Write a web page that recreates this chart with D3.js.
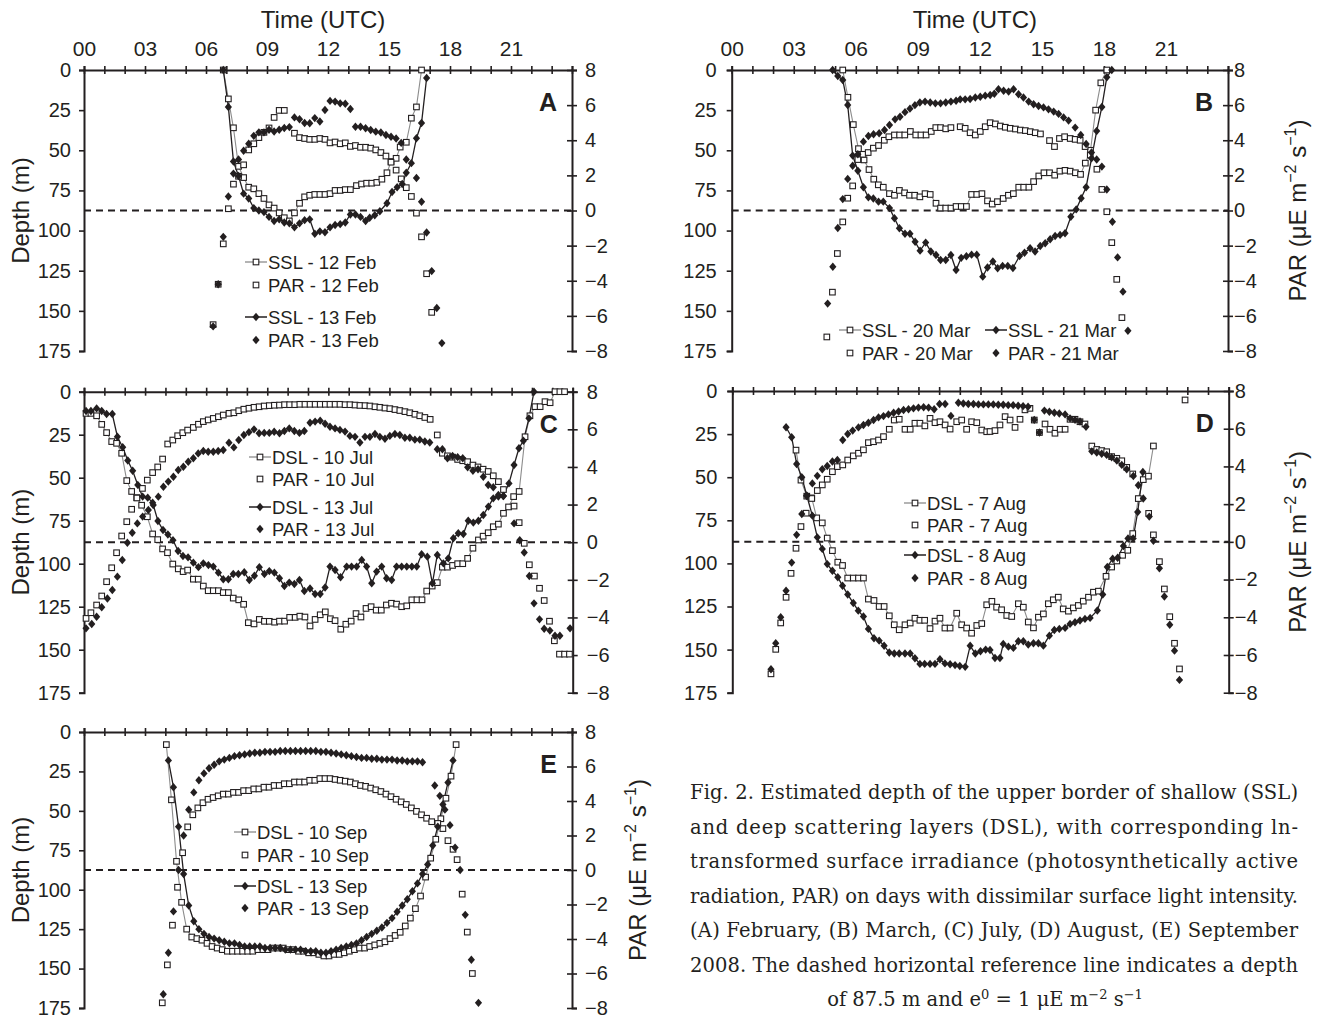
<!DOCTYPE html>
<html>
<head>
<meta charset="utf-8">
<script src="https://cdn.jsdelivr.net/npm/d3@7"></script>
<style>
  body { margin: 0; background: #fff; }
  svg text { font-family: "Liberation Sans", Arial, sans-serif; fill: #231f20; }
  .caption text { font-family: "DejaVu Serif", "Liberation Serif", serif; }
</style>
</head>
<body>
<svg id="fig" width="1318" height="1019"></svg>
<script>
// ---- tick labels ----
const hourLabels = ["00", "03", "06", "09", "12", "15", "18", "21"];
const depthTicks = [0, 25, 50, 75, 100, 125, 150, 175];
const parTicks = [8, 6, 4, 2, 0, -2, -4, -6, -8];

// ---- series: [hour UTC, value] (depth in m, PAR as ln) ----
// A: February
const ssl12Feb = [[6.85,0],[7.1,18],[7.35,36],[7.6,60],[7.85,67],[8.1,73],[8.35,74],[8.6,77],[8.85,80],[9.1,84],[9.35,86],[9.6,89],[9.85,92],[10.1,94],[10.35,89],[10.6,83],[10.85,79],[11.1,78],[11.35,77.5],[11.6,77.5],[11.85,77.5],[12.1,77],[12.35,75],[12.6,75],[12.85,74.5],[13.1,74.5],[13.4,72],[13.65,71],[13.9,70.5],[14.15,70.5],[14.4,70],[14.65,68],[14.9,64],[15.1,57],[15.35,55],[15.55,48],[15.85,45],[16.1,30],[16.35,23],[16.6,0]];
const par12Feb = [[6.35,-6.5],[6.6,-4.2],[6.85,-1.9],[7.1,0.1],[7.35,1.5],[7.6,1.95],[7.85,2.6],[8.1,3.45],[8.35,3.8],[8.6,4.15],[8.85,4.45],[9.1,4.7],[9.35,5.3],[9.6,5.7],[9.85,5.7],[10.35,4.4],[10.6,4.15],[10.85,4.1],[11.1,4.05],[11.35,4.05],[11.6,4.1],[11.85,4.05],[12.1,3.85],[12.35,3.9],[12.6,3.8],[12.85,3.85],[13.1,3.65],[13.35,3.7],[13.6,3.6],[13.85,3.6],[14.1,3.55],[14.35,3.45],[14.6,3.3],[14.85,3.1],[15.1,2.75],[15.35,2.3],[15.6,1.8],[15.85,1.3],[16.1,0.8],[16.35,-0.15],[16.6,-1.5],[16.85,-3.6],[17.1,-5.8]];
const ssl13Feb = [[6.85,0],[7.1,23],[7.35,57],[7.6,66],[7.85,77],[8.1,80],[8.35,86],[8.6,87.5],[8.85,88.5],[9.1,91.5],[9.35,94],[9.6,93],[9.85,95],[10.1,95.5],[10.35,98],[10.6,95.5],[10.85,93.5],[11.1,93],[11.35,102],[11.6,100.5],[11.85,101],[12.1,98],[12.35,96.5],[12.6,96],[12.85,95],[13.1,90],[13.35,90],[13.6,91.5],[13.85,94],[14.05,92],[14.3,90.5],[14.55,88],[14.9,83],[15.15,76],[15.4,73],[15.65,71],[15.85,64],[16.1,58],[16.35,42.5],[16.6,33],[16.85,5]];
const par13Feb = [[6.35,-6.6],[6.6,-4.2],[6.85,-1.5],[7.1,0.8],[7.35,2.1],[7.6,2.9],[7.85,3.4],[8.1,3.8],[8.35,4.25],[8.6,4.45],[8.85,4.45],[9.1,4.6],[9.35,4.5],[9.6,4.6],[9.85,4.7],[10.1,4.75],[10.35,5.3],[10.6,5.2],[10.85,4.98],[11.1,4.97],[11.35,5.26],[11.6,5.07],[11.85,5.72],[12.1,6.24],[12.35,6.2],[12.6,6.1],[12.85,6.08],[13.1,5.78],[13.35,4.77],[13.6,4.77],[13.85,4.68],[14.1,4.58],[14.35,4.49],[14.6,4.44],[14.85,4.3],[15.1,4.2],[15.35,4.1],[15.6,3.85],[15.85,2.9],[16.35,1.85],[16.6,0.5],[16.85,-1.25],[17.1,-3.45],[17.35,-5.55],[17.6,-7.55]];

// B: March
const ssl20Mar = [[5.37,0],[5.62,17],[5.88,34],[6.13,49],[6.4,56],[6.64,62],[6.87,68],[7.09,71.5],[7.33,73],[7.63,77],[7.87,78],[8.11,75],[8.36,76.5],[8.6,78],[8.85,78],[9.1,79],[9.35,77],[9.6,77.5],[9.88,83],[10.1,86],[10.35,86],[10.6,86],[10.85,85],[11.1,85],[11.35,85],[11.6,77.5],[11.85,77.5],[12.1,77],[12.37,81.5],[12.6,83.5],[12.85,82],[13.13,80],[13.38,78],[13.62,77],[13.88,73],[14.12,73],[14.37,73],[14.6,69.5],[14.85,66],[15.1,64],[15.37,64],[15.62,65.5],[15.87,63],[16.12,62.5],[16.37,63],[16.62,64],[16.87,65],[17.1,58],[17.35,50],[17.6,25],[17.85,8],[18.14,0]];
const par20Mar = [[4.6,-7.2],[4.87,-4.65],[5.11,-2.45],[5.37,-0.65],[5.61,0.7],[5.85,1.4],[6.1,2.9],[6.35,3.2],[6.6,3.3],[6.85,3.55],[7.1,3.7],[7.38,4.0],[7.6,4.2],[7.87,4.3],[8.12,4.3],[8.37,4.3],[8.64,4.5],[8.9,4.3],[9.15,4.3],[9.4,4.3],[9.65,4.5],[9.87,4.72],[10.1,4.72],[10.35,4.65],[10.6,4.72],[11.05,4.77],[11.29,4.68],[11.53,4.43],[11.78,4.3],[12.02,4.5],[12.26,4.77],[12.5,5.0],[12.75,4.93],[12.99,4.81],[13.23,4.74],[13.47,4.68],[13.72,4.64],[13.96,4.58],[14.2,4.55],[14.44,4.49],[14.68,4.43],[14.93,4.36],[15.37,3.98],[15.61,3.64],[15.85,4.1],[16.1,4.2],[16.37,4.1],[16.61,4.05],[16.85,4.0],[17.09,3.64],[17.34,3.16],[17.66,2.35],[17.9,1.2],[18.14,-0.07],[18.38,-1.83],[18.62,-3.92],[18.87,-6.1]];
const ssl21Mar = [[4.88,0],[5.13,3.7],[5.37,6.2],[5.61,21.8],[5.85,53.3],[6.1,62.7],[6.37,73],[6.61,79.3],[6.85,80],[7.1,82],[7.33,82],[7.63,86],[7.87,92.3],[8.11,98.6],[8.38,102],[8.62,102],[8.87,107],[9.11,112.5],[9.38,107.5],[9.63,113],[9.88,115.2],[10.1,118.3],[10.35,118.3],[10.6,115.2],[10.85,124.6],[11.1,117],[11.35,116],[11.6,115],[11.85,115],[12.14,128.7],[12.37,123],[12.63,119.3],[12.86,123.5],[13.1,122],[13.35,122],[13.6,123.3],[13.92,115.8],[14.16,113.8],[14.43,111],[14.67,113],[14.92,109.6],[15.16,107.9],[15.4,105.4],[15.64,103.4],[15.88,102.7],[16.12,101.7],[16.4,91.4],[16.66,86.8],[16.9,79.9],[17.14,73],[17.4,55],[17.65,38],[17.9,23],[18.14,4.5],[18.38,0]];
const par21Mar = [[4.64,-5.3],[4.89,-3.2],[5.13,-1.0],[5.37,0.65],[5.61,1.8],[5.85,2.55],[6.1,3.2],[6.37,3.92],[6.61,4.24],[6.86,4.34],[7.13,4.4],[7.39,4.58],[7.63,4.87],[7.9,5.19],[8.14,5.34],[8.38,5.6],[8.62,5.8],[8.86,6.0],[9.1,6.15],[9.35,6.2],[9.6,6.15],[9.85,6.1],[10.1,6.1],[10.35,6.15],[10.6,6.2],[10.85,6.25],[11.05,6.33],[11.29,6.33],[11.53,6.35],[11.78,6.43],[12.02,6.48],[12.26,6.54],[12.5,6.58],[12.7,6.65],[12.9,6.9],[13.15,6.82],[13.39,6.77],[13.63,6.9],[13.87,6.62],[14.11,6.43],[14.36,6.2],[14.6,6.05],[14.84,5.95],[15.08,5.87],[15.32,5.76],[15.57,5.63],[15.81,5.5],[16.05,5.3],[16.29,5.12],[16.61,4.72],[16.88,4.3],[17.14,3.79],[17.4,3.3],[17.65,2.9],[17.9,2.5],[18.14,1.2],[18.41,-0.64],[18.66,-2.67],[18.92,-4.62],[19.16,-6.85]];

// C: July
const dsl10Jul = [[0.1,12.6],[0.34,12.6],[0.62,14],[0.87,19],[1.11,23.8],[1.36,29],[1.6,30],[1.85,35.8],[2.1,51.7],[2.34,58],[2.59,61.6],[2.83,66],[3.11,72.7],[3.37,82.7],[3.62,86],[3.86,91.4],[4.1,93.6],[4.36,100.2],[4.63,103],[4.87,104.6],[5.09,103.7],[5.37,109],[5.61,109],[5.86,113],[6.1,115.7],[6.35,115.7],[6.6,115.7],[6.84,116.8],[7.09,116.8],[7.33,120],[7.6,121],[7.84,123.6],[8.07,134.3],[8.35,135],[8.61,132.4],[8.86,133.5],[9.1,133.5],[9.36,134],[9.6,133.4],[9.85,133.4],[10.1,131.2],[10.37,131.2],[10.6,130.5],[10.85,131],[11.1,136.2],[11.35,132.4],[11.6,129.7],[11.85,128],[12.1,132],[12.33,133.1],[12.61,138.1],[12.86,135.2],[13.12,133.4],[13.36,129],[13.6,131],[13.85,126],[14.1,125],[14.35,127],[14.6,127],[14.85,124],[15.1,123],[15.35,123.5],[15.6,125],[15.85,124.5],[16.1,121],[16.35,121],[16.6,121],[16.83,115.9],[17.1,113],[17.35,111],[17.6,102],[17.85,102],[18.1,101],[18.35,100],[18.6,100],[18.84,96.9],[19.1,91],[19.37,86.2],[19.6,84],[19.85,82],[20.1,78.5],[20.35,77],[20.6,70.7],[20.85,67],[21.1,61],[21.37,58],[21.66,26.2],[21.9,14],[22.15,8.7],[22.4,8.7],[22.64,5.8],[22.89,6.4],[23.13,0],[23.37,0],[23.6,0]];
const par10Jul = [[0.1,-4.05],[0.34,-3.75],[0.62,-3.34],[0.87,-2.86],[1.11,-2.1],[1.36,-1.36],[1.6,-0.56],[1.85,0.33],[2.1,1.09],[2.34,1.75],[2.6,2.35],[2.87,2.86],[3.11,3.3],[3.37,3.7],[3.62,4.0],[3.86,4.42],[4.11,5.22],[4.36,5.43],[4.6,5.66],[4.85,5.82],[5.09,5.96],[5.37,6.1],[5.62,6.27],[5.86,6.41],[6.1,6.5],[6.35,6.58],[6.6,6.67],[6.84,6.76],[7.12,6.85],[7.36,6.88],[7.6,6.99],[7.85,7.07],[8.1,7.12],[8.35,7.17],[8.6,7.2],[8.85,7.24],[9.1,7.26],[9.35,7.28],[9.6,7.29],[9.85,7.31],[10.1,7.31],[10.35,7.31],[10.6,7.33],[10.85,7.33],[11.1,7.33],[11.35,7.33],[11.6,7.33],[11.85,7.33],[12.08,7.33],[12.33,7.33],[12.57,7.33],[12.82,7.31],[13.06,7.31],[13.31,7.29],[13.55,7.27],[13.8,7.26],[14.04,7.24],[14.29,7.2],[14.53,7.17],[14.78,7.13],[15.02,7.1],[15.27,7.05],[15.51,7.0],[15.76,6.94],[16.0,6.88],[16.25,6.8],[16.49,6.72],[16.74,6.63],[17.0,6.53],[17.35,5.7],[17.6,4.73],[17.85,4.59],[18.1,4.52],[18.35,4.4],[18.6,4.33],[18.84,4.28],[19.1,4.1],[19.35,4.0],[19.6,3.88],[19.85,3.76],[20.1,3.53],[20.35,3.22],[20.6,2.8],[21.12,1.92],[21.37,1.04],[21.62,-0.06],[21.87,-1.2],[22.12,-1.8],[22.37,-2.45],[22.6,-3.1],[22.86,-4.2],[23.1,-5.24],[23.35,-5.95],[23.6,-5.95],[23.84,-5.95]];
const dsl13Jul = [[0.1,11.2],[0.34,11.2],[0.62,9.7],[0.87,11.2],[1.11,13],[1.39,13],[1.64,26.2],[1.9,32.3],[2.15,40],[2.39,46],[2.64,54.2],[2.88,61],[3.13,61.6],[3.37,64.5],[3.63,75.2],[3.88,80.4],[4.12,83],[4.37,86.3],[4.62,92.6],[4.86,95.5],[5.11,96.3],[5.37,99.4],[5.62,102],[5.86,99.8],[6.11,100.8],[6.35,101.7],[6.6,105.2],[6.84,109],[7.09,109],[7.33,106],[7.58,106],[7.87,105],[8.12,109.5],[8.37,107],[8.61,102],[8.86,106],[9.1,104.3],[9.35,105.2],[9.6,108.5],[9.84,113],[10.08,111],[10.33,111.8],[10.58,109.5],[10.82,115.9],[11.1,114.4],[11.35,117.6],[11.6,117.6],[11.84,113.8],[12.08,101.7],[12.33,103.7],[12.6,107.9],[12.9,101.7],[13.14,101.7],[13.39,101.7],[13.64,97.8],[13.88,101.7],[14.13,111.4],[14.37,104.6],[14.62,101.7],[14.86,108.5],[15.11,109.5],[15.35,101.7],[15.6,101.7],[15.85,101.7],[16.1,101.7],[16.34,101.7],[16.58,94.5],[16.86,95.9],[17.11,111.4],[17.35,94.9],[17.65,99.8],[17.89,96.9],[18.14,85.2],[18.38,82.3],[18.63,82.7],[18.87,75],[19.12,76.1],[19.37,75],[19.61,71.7],[19.86,66.8],[20.1,62],[20.35,61],[20.59,60.6],[20.87,53.3],[21.12,42.6],[21.36,32.9],[21.58,28.5],[21.85,15.5],[22.1,0]];
const par13Jul = [[0.1,-4.58],[0.38,-4.35],[0.62,-3.96],[0.87,-3.46],[1.15,-2.99],[1.39,-2.54],[1.64,-1.83],[1.88,-0.95],[2.13,-0.03],[2.37,0.5],[2.62,1.0],[2.88,1.36],[3.16,1.71],[3.4,1.98],[3.65,2.42],[3.9,2.95],[4.14,3.22],[4.39,3.48],[4.63,3.84],[4.88,4.01],[5.12,4.28],[5.37,4.46],[5.61,4.72],[5.86,4.85],[6.1,4.81],[6.35,4.81],[6.59,4.85],[6.84,4.9],[7.12,5.29],[7.36,5.04],[7.6,5.43],[7.85,5.7],[8.1,5.85],[8.35,6.0],[8.6,5.79],[8.85,5.81],[9.1,5.81],[9.34,5.87],[9.6,5.79],[9.84,5.91],[10.08,6.05],[10.33,5.91],[10.58,5.81],[10.82,5.91],[11.1,6.35],[11.35,6.41],[11.6,6.46],[11.84,6.3],[12.08,6.14],[12.33,6.05],[12.57,5.97],[12.82,5.88],[13.06,5.65],[13.31,5.6],[13.55,5.3],[13.8,5.6],[14.04,5.6],[14.29,5.75],[14.53,5.6],[14.78,5.5],[15.02,5.65],[15.27,5.75],[15.51,5.7],[15.76,5.55],[16.0,5.55],[16.25,5.45],[16.49,5.45],[16.74,5.35],[16.98,5.3],[17.35,4.94],[17.6,4.94],[17.85,4.46],[18.1,4.58],[18.35,4.52],[18.6,4.46],[18.84,3.98],[19.1,3.8],[19.35,3.88],[19.61,3.48],[19.85,3.04],[20.1,2.92],[20.35,2.51],[20.6,2.45],[21.12,1.0],[21.4,0.1],[21.62,-0.55],[21.87,-1.8],[22.1,-3.25],[22.37,-4.1],[22.6,-4.6],[22.88,-4.7],[23.13,-4.97],[23.37,-4.97],[23.87,-4.58]];

// D: August
const dsl7Aug = [[3.08,34.3],[3.32,51.7],[3.6,61],[3.84,62],[4.08,73.6],[4.35,76.5],[4.59,85.3],[4.84,92.6],[5.1,99.3],[5.33,101.2],[5.58,108.5],[5.85,108.5],[6.1,108.5],[6.34,108.5],[6.58,120.7],[6.85,121.5],[7.1,125],[7.34,125],[7.59,130.4],[7.83,135.6],[8.07,138.5],[8.35,135.6],[8.6,134.6],[8.83,131.8],[9.07,133],[9.3,133],[9.56,137.8],[9.8,133.5],[10.04,131.8],[10.28,137.5],[10.53,137.5],[10.85,128.9],[11.09,135.6],[11.33,137.5],[11.57,140.5],[11.82,136],[12.06,134.9],[12.3,124],[12.55,122],[12.78,125.4],[13.02,126.9],[13.27,130.2],[13.51,130.8],[13.83,123.4],[14.07,125.4],[14.31,134],[14.56,137.4],[14.8,131.2],[15.04,129.3],[15.28,123.4],[15.52,121.1],[15.76,119.6],[16.0,126.4],[16.25,127.7],[16.49,125.8],[16.73,124.4],[16.97,121.9],[17.22,119.6],[17.46,116.7],[17.7,116.1],[18.07,107.5],[18.34,102.1],[18.59,98.6],[18.87,95.3],[19.12,92.4],[19.36,82.7],[19.63,62.4],[19.87,51.4],[20.12,49.4],[20.36,31.9],null,[21.89,5.2]];
const par7Aug = [[1.87,-7.0],[2.1,-5.7],[2.34,-4.3],[2.6,-2.94],[2.84,-1.67],[3.08,-0.34],[3.32,0.81],[3.57,1.52],[3.84,2.3],[4.11,2.72],[4.35,3.02],[4.59,3.32],[4.84,3.72],[5.08,3.99],[5.34,4.08],[5.58,4.34],[5.85,4.56],[6.1,4.7],[6.34,4.88],[6.58,5.26],[6.83,5.31],[7.07,5.4],[7.31,5.58],[7.59,5.97],[7.83,6.46],[8.07,6.5],[8.35,5.97],[8.6,5.97],[8.83,6.29],[9.07,6.29],[9.31,6.15],[9.56,6.55],[9.8,6.32],[10.04,6.37],[10.29,6.2],[10.53,5.98],[10.85,6.37],[11.09,6.46],[11.33,5.97],[11.57,6.37],[11.82,6.32],[12.06,5.93],[12.3,5.84],[12.46,5.85],[12.7,5.9],[12.94,6.2],[13.19,6.64],[13.43,6.46],[13.67,6.07],[13.91,6.5],[14.15,7.0],[14.39,7.08],[14.6,6.46],[14.85,5.8],[15.12,6.25],[15.36,5.97],[15.6,5.76],[15.85,5.97],[16.09,5.97],[16.33,6.5],[16.57,6.5],[16.81,6.37],[17.05,6.25],[17.38,5.08],[17.62,4.9],[17.86,4.84],[18.1,4.78],[18.34,4.52],[18.59,4.43],[18.83,4.3],[19.07,3.95],[19.36,3.6],[20.13,1.51],[20.36,0.37],[20.65,-1.05],[20.89,-2.5],[21.15,-3.97],[21.38,-5.38],[21.62,-6.74]];
const dsl8Aug = [[2.6,21],[2.87,26.8],[3.11,42.3],[3.36,50],[3.6,60.6],[3.87,72.3],[4.11,84.9],[4.35,91.6],[4.59,100.4],[4.84,104.3],[5.1,108],[5.33,113],[5.58,118],[5.85,123],[6.09,127.4],[6.34,130.8],[6.58,138],[6.85,143.4],[7.1,144.8],[7.34,147.8],[7.59,151.7],[7.83,152.3],[8.07,152.3],[8.35,152.3],[8.6,152.3],[8.83,155],[9.07,158.3],[9.3,158.3],[9.56,158.3],[9.8,158.3],[10.04,155.6],[10.28,158],[10.53,158.5],[10.77,159],[11.0,159.5],[11.26,160],[11.5,147.8],[11.75,152.3],[12.0,151],[12.25,150],[12.46,150.2],[12.7,154.9],[12.94,154.9],[13.1,146.7],[13.35,148.3],[13.59,149],[13.83,145.2],[14.07,145.2],[14.31,147.1],[14.56,146.3],[14.8,146.3],[15.04,147.7],[15.33,141.9],[15.57,138.6],[15.81,138],[16.09,137.4],[16.33,135.1],[16.57,134.1],[16.81,133.1],[17.05,132.2],[17.3,131.6],[17.65,127.3],[17.91,118],[18.13,102.1],[18.39,97.3],[18.63,96.7],[18.91,89.9],[19.13,85.5],[19.38,85.5],[19.6,70.2],[19.85,47]];
const par8Aug = [[1.87,-6.76],[2.1,-5.38],[2.34,-4.0],[2.6,-2.59],[2.87,-1.1],[3.11,0.37],[3.36,1.48],[3.6,2.43],[3.87,3.1],[4.11,3.5],[4.35,3.85],[4.59,4.02],[4.84,4.26],[5.08,4.34],[5.34,5.4],[5.58,5.72],[5.82,5.9],[6.1,6.07],[6.34,6.2],[6.58,6.32],[6.83,6.46],[7.07,6.6],[7.31,6.67],[7.55,6.76],[7.8,6.85],[8.04,6.91],[8.28,6.99],[8.52,7.03],[8.76,7.08],[9.0,7.12],[9.25,7.14],[9.49,7.12],[9.76,7.03],[10.02,7.31],[10.29,7.31],[10.57,6.68],[10.93,7.38],[11.17,7.34],[11.41,7.31],[11.66,7.31],[11.9,7.29],[12.14,7.29],[12.38,7.29],[12.62,7.29],[12.86,7.27],[13.1,7.27],[13.34,7.25],[13.58,7.25],[13.82,7.22],[14.06,7.2],[14.3,7.17],[14.6,6.47],[14.85,5.8],[15.09,6.96],[15.33,6.9],[15.57,6.85],[15.81,6.81],[16.09,6.76],[16.33,6.55],[16.57,6.47],[16.81,6.38],[17.1,6.1],[17.38,4.8],[17.62,4.74],[17.86,4.67],[18.1,4.61],[18.34,4.48],[18.59,4.31],[18.83,4.08],[19.07,3.85],[19.39,3.49],[19.63,3.0],[19.87,2.3],[20.16,1.34],[20.36,0.06],[20.65,-1.4],[20.89,-2.9],[21.15,-4.4],[21.38,-5.77],[21.62,-7.32]];

// E: September
const dsl10Sep = [[4.05,8],[4.3,43],[4.55,82],[4.8,108],[5.05,125],[5.3,130],[5.55,131],[5.8,132],[6.05,134],[6.3,136],[6.55,137],[6.8,138],[7.05,139],[7.3,139],[7.55,139],[7.8,139],[8.05,139],[8.3,139],[8.55,138],[8.8,138],[9.05,138],[9.3,137],[9.55,137],[9.8,137],[10.05,138],[10.3,138],[10.55,139],[10.8,139],[11.05,140],[11.3,140],[11.55,141],[11.8,142],[12.05,142],[12.3,141],[12.55,141],[12.8,140],[13.05,139],[13.3,138],[13.55,137],[13.8,137],[14.05,136],[14.3,135],[14.55,134],[14.8,133],[15.05,131],[15.3,129],[15.55,127],[15.8,123],[16.05,118],[16.3,112],[16.55,104],[16.8,92],[17.05,80],[17.3,68],[17.55,55],[17.8,42],[18.05,28],[18.3,8]];
const par10Sep = [[3.85,-7.7],[4.1,-5.5],[4.35,-3.2],[4.6,-1.0],[4.85,1.0],[5.1,2.5],[5.35,3.2],[5.6,3.6],[5.85,3.9],[6.1,4.1],[6.35,4.2],[6.6,4.3],[6.85,4.4],[7.1,4.4],[7.35,4.5],[7.6,4.5],[7.85,4.6],[8.1,4.6],[8.35,4.7],[8.6,4.7],[8.85,4.8],[9.1,4.8],[9.35,4.9],[9.6,4.9],[9.85,5.0],[10.1,5.0],[10.35,5.1],[10.6,5.1],[10.85,5.1],[11.1,5.2],[11.35,5.2],[11.6,5.3],[11.85,5.3],[12.1,5.3],[12.35,5.25],[12.6,5.2],[12.85,5.15],[13.1,5.1],[13.35,5.0],[13.6,4.9],[13.85,4.85],[14.1,4.75],[14.35,4.65],[14.6,4.55],[14.85,4.4],[15.1,4.25],[15.35,4.1],[15.6,3.95],[15.85,3.8],[16.1,3.6],[16.35,3.4],[16.6,3.2],[16.85,3.0],[17.1,2.8],[17.4,2.7],[17.65,2.4],[17.9,1.7],[18.15,1.2],[18.35,0.6],[18.6,-1.4],[18.85,-3.6],[19.1,-6.0]];
const dsl13Sep = [[4.15,18],[4.4,35],[4.65,60],[4.9,90],[5.15,110],[5.4,120],[5.65,125],[5.9,128],[6.15,130],[6.4,131],[6.65,132],[6.9,133],[7.15,134],[7.4,134],[7.65,135],[7.9,136],[8.15,136],[8.4,136],[8.65,136],[8.9,137],[9.15,137],[9.4,137],[9.65,137],[9.9,138],[10.15,138],[10.4,138],[10.65,138],[10.9,139],[11.15,139],[11.4,139],[11.65,140],[11.9,140],[12.15,139],[12.4,138],[12.65,137],[12.9,136],[13.15,135],[13.4,134],[13.65,132],[13.9,130],[14.15,128],[14.4,126],[14.65,124],[14.9,121],[15.15,118],[15.4,114],[15.65,110],[15.9,106],[16.15,101],[16.4,96],[16.65,90],[16.9,84],[17.15,72],[17.4,60],[17.65,46],[17.9,32],[18.15,18]];
const par13Sep = [[3.9,-7.2],[4.15,-4.8],[4.4,-2.4],[4.65,0],[4.9,2.0],[5.15,3.5],[5.4,4.5],[5.65,5.2],[5.9,5.6],[6.15,5.9],[6.4,6.1],[6.65,6.3],[6.9,6.4],[7.15,6.5],[7.4,6.6],[7.65,6.65],[7.9,6.7],[8.15,6.75],[8.4,6.8],[8.65,6.8],[8.9,6.85],[9.15,6.85],[9.4,6.85],[9.65,6.9],[9.9,6.9],[10.15,6.9],[10.4,6.9],[10.65,6.9],[10.9,6.9],[11.15,6.9],[11.4,6.9],[11.65,6.85],[11.9,6.85],[12.15,6.8],[12.4,6.75],[12.65,6.7],[12.9,6.65],[13.15,6.6],[13.4,6.55],[13.65,6.5],[13.9,6.5],[14.15,6.45],[14.4,6.45],[14.65,6.4],[14.9,6.4],[15.15,6.4],[15.4,6.35],[15.65,6.35],[15.9,6.3],[16.15,6.3],[16.4,6.3],[16.65,6.25],[17.25,4.9],[17.5,4.3],[17.75,3.5],[18.0,2.6],[18.25,1.3],[18.5,0],[18.75,-2.6],[19.05,-5.2],[19.4,-7.7]];

// legend labels per panel (day 1 depth, day 1 PAR, day 2 depth, day 2 PAR)
const legendA = ["SSL - 12 Feb", "PAR - 12 Feb", "SSL - 13 Feb", "PAR - 13 Feb"];
const legendB = ["SSL - 20 Mar", "PAR - 20 Mar", "SSL - 21 Mar", "PAR - 21 Mar"];
const legendC = ["DSL - 10 Jul", "PAR - 10 Jul", "DSL - 13 Jul", "PAR - 13 Jul"];
const legendD = ["DSL - 7 Aug", "PAR - 7 Aug", "DSL - 8 Aug", "PAR - 8 Aug"];
const legendE = ["DSL - 10 Sep", "PAR - 10 Sep", "DSL - 13 Sep", "PAR - 13 Sep"];

const captionLines = [
  "Fig. 2. Estimated depth of the upper border of shallow (SSL)",
  "and deep scattering layers (DSL), with corresponding ln-",
  "transformed surface irradiance (photosynthetically active",
  "radiation, PAR) on days with dissimilar surface light intensity.",
  "(A) February, (B) March, (C) July, (D) August, (E) September",
  "2008. The dashed horizontal reference line indicates a depth"
];

// ---------------------------------------------------------------
const svg = d3.select("#fig");

const panels = [
  { letter: "A", left: 84, right: 572, top: 70, bottom: 351, timeLabels: true, depthTitle: true, parTitle: null,
    depthGap: 8, parGap: 8, series: [ssl12Feb, par12Feb, ssl13Feb, par13Feb], legend: legendA,
    leg: [[256, 262], [256, 285], [256, 317], [256, 340]] },
  { letter: "B", left: 731.7, right: 1228, top: 70, bottom: 351, timeLabels: true, depthTitle: false, parTitle: 1300,
    depthGap: 10, parGap: 1, series: [ssl20Mar, par20Mar, ssl21Mar, par21Mar], legend: legendB,
    leg: [[850, 330], [850, 353], [996, 330], [996, 353]] },
  { letter: "C", left: 84, right: 572.7, top: 391.7, bottom: 692.7, timeLabels: false, depthTitle: true, parTitle: null,
    depthGap: 8, parGap: 9, series: [dsl10Jul, par10Jul, dsl13Jul, par13Jul], legend: legendC,
    leg: [[260, 457], [260, 479], [260, 507], [260, 529]] },
  { letter: "D", left: 732.3, right: 1228.7, top: 391, bottom: 692.7, timeLabels: false, depthTitle: false, parTitle: 1300,
    depthGap: 10, parGap: 1, series: [dsl7Aug, par7Aug, dsl8Aug, par8Aug], legend: legendD,
    leg: [[915, 503], [915, 525], [915, 555], [915, 578]] },
  { letter: "E", left: 84, right: 572, top: 732, bottom: 1008, timeLabels: false, depthTitle: true, parTitle: 640,
    depthGap: 8, parGap: 8, series: [dsl10Sep, par10Sep, dsl13Sep, par13Sep], legend: legendE,
    leg: [[245, 832], [245, 855], [245, 886], [245, 908]] }
];

const diamond = "M0,-4.2L3.6,0L0,4.2L-3.6,0Z";

function marker(sel, kind) {
  if (kind === "sq") {
    sel.append("rect").attr("x", -2.8).attr("y", -2.8).attr("width", 5.6).attr("height", 5.6)
      .attr("fill", "#fff").attr("stroke", "#231f20").attr("stroke-width", 1.1);
  } else {
    sel.append("path").attr("d", diamond).attr("fill", "#231f20");
  }
}

function parTitle(g, x, y) {
  const t = g.append("text")
    .attr("transform", `translate(${x},${y}) rotate(-90)`)
    .attr("text-anchor", "middle")
    .attr("dominant-baseline", "middle")
    .style("font-size", "24px");
  t.append("tspan").text("PAR (μE m");
  t.append("tspan").attr("dy", -8).style("font-size", "16px").text("−2");
  t.append("tspan").attr("dy", 8).text(" s");
  t.append("tspan").attr("dy", -8).style("font-size", "16px").text("−1");
  t.append("tspan").attr("dy", 8).text(")");
}

panels.forEach(p => {
  const g = svg.append("g");
  const x = d3.scaleLinear().domain([0, 24]).range([p.left, p.right]);
  const yD = d3.scaleLinear().domain([0, 175]).range([p.top, p.bottom]);
  const yP = d3.scaleLinear().domain([8, -8]).range([p.top, p.bottom]);

  // dashed reference line (87.5 m / ln PAR = 0)
  g.append("line")
    .attr("x1", p.left).attr("x2", p.right)
    .attr("y1", yP(0)).attr("y2", yP(0))
    .attr("stroke", "#231f20").attr("stroke-width", 2)
    .attr("stroke-dasharray", "7,5");

  // top time axis
  const ax = g.append("g")
    .attr("transform", `translate(0,${p.top})`)
    .call(d3.axisTop(x).tickValues(d3.range(0, 25)).tickSizeOuter(0).tickSize(4).tickPadding(10)
      .tickFormat(d => (p.timeLabels && d % 3 === 0 && d < 24) ? hourLabels[d / 3] : ""));
  ax.selectAll(".tick line").attr("y1", -4).attr("y2", 4);

  // left depth axis
  const ay = g.append("g")
    .attr("transform", `translate(${p.left},0)`)
    .call(d3.axisLeft(yD).tickValues(depthTicks).tickSizeOuter(0).tickSize(5).tickPadding(p.depthGap));

  // right PAR axis
  const ap = g.append("g")
    .attr("transform", `translate(${p.right},0)`)
    .call(d3.axisRight(yP).tickValues(parTicks).tickSizeOuter(0).tickSize(5).tickPadding(p.parGap));
  ap.selectAll(".tick line").attr("x1", -5).attr("x2", 5);

  [ax, ay, ap].forEach(a => {
    a.select(".domain").attr("stroke", "#231f20").attr("stroke-width", 2);
    a.selectAll(".tick line").attr("stroke", "#231f20").attr("stroke-width", 1.6);
    a.selectAll("text").attr("fill", "#231f20").style("font-size", "20px")
      .style("font-family", '"Liberation Sans", Arial, sans-serif');
  });
  ax.selectAll("text").style("font-size", "21px");

  // series: 0 depth/squares, 1 PAR/squares, 2 depth/diamonds, 3 PAR/diamonds
  const spec = [
    { y: yD, kind: "sq", line: "#8c8c8c", w: 1.1 },
    { y: yP, kind: "sq", line: null },
    { y: yD, kind: "dm", line: "#231f20", w: 1.3 },
    { y: yP, kind: "dm", line: null }
  ];
  p.series.forEach((data, i) => {
    const s = spec[i];
    if (s.line) {
      g.append("path").datum(data)
        .attr("fill", "none").attr("stroke", s.line).attr("stroke-width", s.w)
        .attr("d", d3.line().defined(d => d).x(d => x(d[0])).y(d => s.y(d[1])));
    }
  });
  p.series.forEach((data, i) => {
    const s = spec[i];
    g.append("g").selectAll("g").data(data.filter(d => d)).join("g")
      .attr("transform", d => `translate(${x(d[0])},${s.y(d[1])})`)
      .call(sel => marker(sel, s.kind));
  });

  // legend
  p.legend.forEach((label, i) => {
    const [lx, ly] = p.leg[i];
    const s = spec[i];
    const lg = g.append("g").attr("transform", `translate(${lx},${ly})`);
    if (s.line) lg.append("line").attr("x1", -11).attr("x2", 11).attr("stroke", s.line).attr("stroke-width", s.w + 0.2);
    marker(lg, s.kind);
    lg.append("text").attr("x", 12).attr("dominant-baseline", "central")
      .style("font-size", "18.5px").text(label);
  });

  // panel letter
  g.append("text").attr("x", p.right - 15).attr("y", p.top + 41)
    .attr("text-anchor", "end").style("font-size", "25px").style("font-weight", "bold")
    .text(p.letter);

  // titles
  if (p.timeLabels) {
    g.append("text").attr("x", (p.left + p.right) / 2 - 5).attr("y", 28)
      .attr("text-anchor", "middle").style("font-size", "24px").text("Time (UTC)");
  }
  if (p.depthTitle) {
    g.append("text")
      .attr("transform", `translate(23,${(p.top + p.bottom) / 2}) rotate(-90)`)
      .attr("text-anchor", "middle").attr("dominant-baseline", "middle")
      .style("font-size", "24px").text("Depth (m)");
  }
  if (p.parTitle) parTitle(g, p.parTitle, (p.top + p.bottom) / 2);
});

// caption
const cap = svg.append("g").attr("class", "caption");
captionLines.forEach((line, i) => {
  cap.append("text").attr("x", 690).attr("y", 799 + i * 34.5)
    .attr("textLength", 608).attr("lengthAdjust", "spacing")
    .style("font-size", "19.5px").text(line);
});
const last = cap.append("text").attr("x", 985).attr("y", 799 + 6 * 34.5)
  .attr("text-anchor", "middle").style("font-size", "19.5px");
last.append("tspan").text("of 87.5 m and e");
last.append("tspan").attr("dy", -7).style("font-size", "13px").text("0");
last.append("tspan").attr("dy", 7).text(" = 1 μE m");
last.append("tspan").attr("dy", -7).style("font-size", "13px").text("−2");
last.append("tspan").attr("dy", 7).text(" s");
last.append("tspan").attr("dy", -7).style("font-size", "13px").text("−1");
</script>
</body>
</html>
